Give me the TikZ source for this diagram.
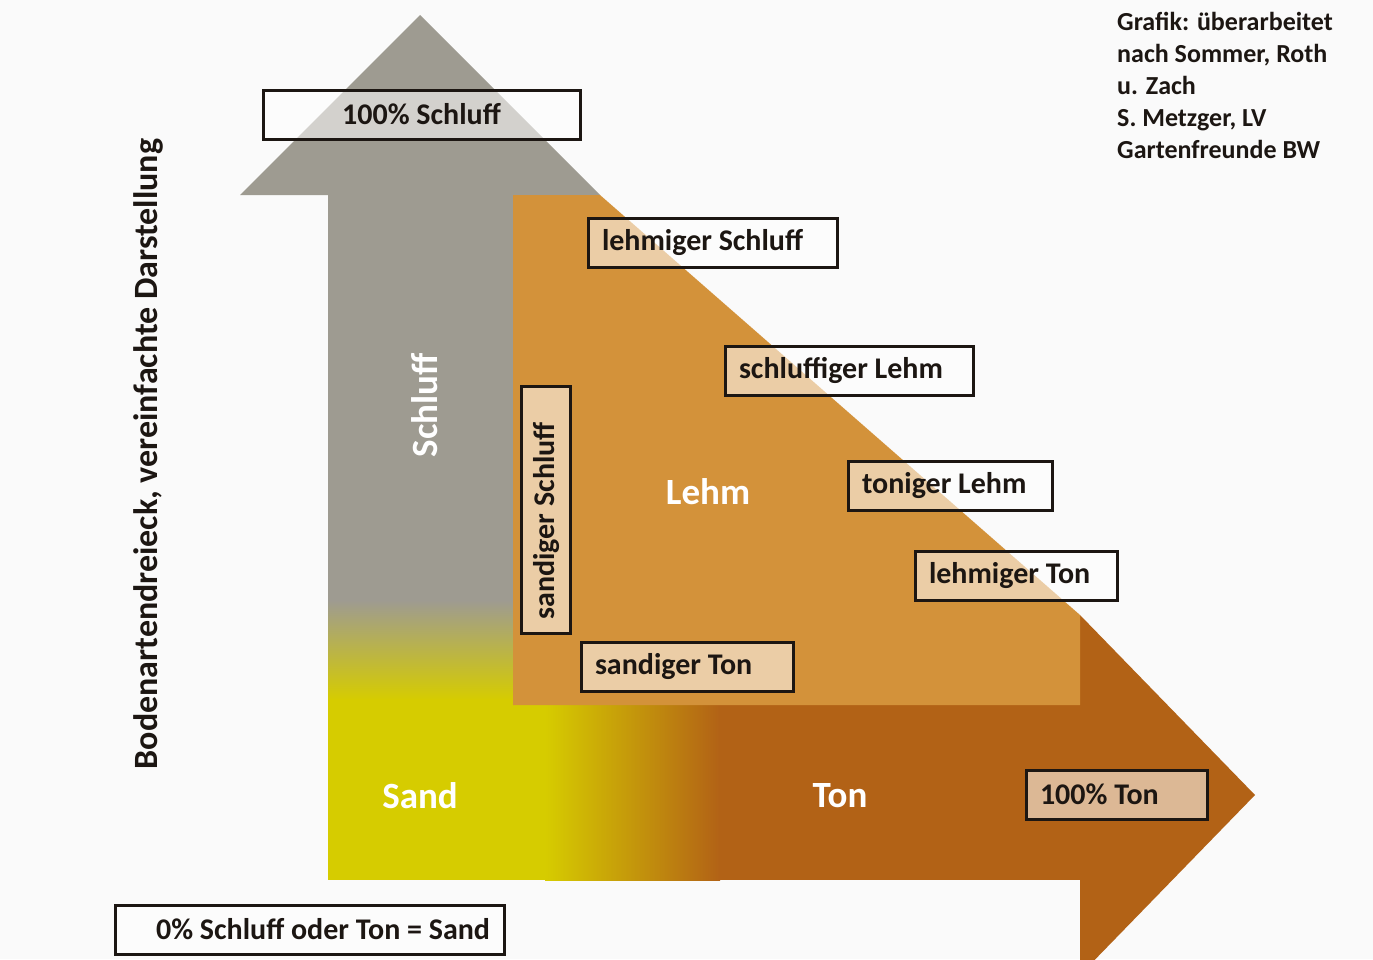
\documentclass[tikz,border=0pt]{standalone}
\usepackage{fontspec}
\setmainfont{Carlito}
\definecolor{silt}{RGB}{158,155,145}
\definecolor{sandy}{RGB}{214,204,0}
\definecolor{clay}{RGB}{178,98,22}
\definecolor{loam}{RGB}{211,146,58}
\definecolor{ink}{RGB}{28,22,18}
\definecolor{paper}{RGB}{250,250,250}
\tikzset{
  tag/.style={draw=ink, line width=3pt, fill=white, fill opacity=0.55, text opacity=1,
    text=ink, font=\fontsize{30}{36}\selectfont\bfseries, minimum height=49pt,
    inner xsep=14pt, inner ysep=4pt, align=flush left, anchor=north west},
  bigword/.style={text=white, font=\fontsize{37}{44}\selectfont\bfseries}
}
\begin{document}
\begin{tikzpicture}[x=1pt,y=-1pt]
  \useasboundingbox (0,0) rectangle (1373,959);
  \clip (0,0) rectangle (1373,959);
  \fill[paper] (0,0) rectangle (1373,959);
  % upward arrow (Schluff)
  \fill[silt] (240,195) -- (420,15) -- (600,195) -- cycle;
  \fill[silt] (328,194) rectangle (513,601);
  \shade[top color=silt, bottom color=sandy] (328,600) rectangle (513,700);
  \fill[sandy] (328,699) rectangle (546,880);
  % rightward arrow (Ton)
  \shade[left color=sandy, right color=clay] (545,705) rectangle (720,880);
  \fill[clay] (719,705) rectangle (1081,880);
  \fill[clay] (1080,615) -- (1255,795) -- (1080,975) -- cycle;
  % Lehm
  \fill[loam] (513,195) -- (600,195) -- (1080,615) -- (1080,705) -- (513,705) -- cycle;

  \node[bigword, rotate=90] (schluff) at (425,405) {Schluff};
  \node[bigword] (lehm) at (708,492) {Lehm};
  \node[bigword] (sand) at (420,796) {Sand};
  \node[bigword] (ton) at (840,796) {Ton};

  \node[tag, text width=289pt, align=flush center] (s100) at (261.5,88.5) {100\% Schluff};
  \node[tag, text width=221pt] (lschluff) at (586.5,216.5) {lehmiger Schluff};
  \node[tag, text width=220pt] (slehm) at (723.5,344.5) {schluffiger Lehm};
  \node[tag, text width=176pt] (tlehm) at (846.5,459.5) {toniger Lehm};
  \node[tag, text width=174pt] (lton) at (913.5,549.5) {lehmiger Ton};
  \node[tag, text width=184pt] (ston) at (579.5,640.5) {sandiger Ton};
  \node[tag, text width=219pt, anchor=center, rotate=90] (sschluff) at (546,510) {sandiger Schluff};
  \node[tag, text width=153pt] (t100) at (1024.5,768.5) {100\% Ton};
  \node[tag, text width=361pt, align=flush right] (sand0) at (113.5,903.5) {0\% Schluff oder Ton = Sand};

  \node[rotate=90, text=ink, font=\fontsize{34}{40}\selectfont\bfseries] (title) at (148,454)
    {Bodenartendreieck, vereinfachte Darstellung};
  \node[anchor=north west, align=left, inner sep=0pt, text=ink,
    font=\fontsize{26}{32}\selectfont\bfseries] (credit) at (1117,12)
    {Grafik: überarbeitet\\nach Sommer, Roth\\u. Zach\\S. Metzger, LV\\Gartenfreunde BW};
\end{tikzpicture}
\end{document}
